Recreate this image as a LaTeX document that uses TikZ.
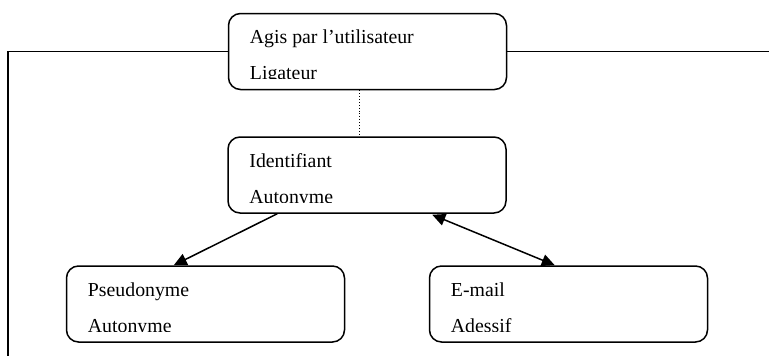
\documentclass[tikz,border=0pt]{standalone}
\usepackage{fontspec}
\setmainfont{Liberation Serif}
\usetikzlibrary{calc,arrows.meta}
\tikzset{
  box/.style={draw, line width=1.5pt, rounded corners=12pt, minimum width=278pt, minimum height=76pt, inner sep=0pt},
  lbl/.style={anchor=base west, inner sep=0pt, font=\fontsize{19.8pt}{23pt}\selectfont},
  conn/.style={line width=1.5pt},
  tip/.style={-{Triangle[length=13pt,width=12pt]}},
  dtip/.style={{Triangle[length=13pt,width=12pt]}-{Triangle[length=13pt,width=12pt]}}
}
\newcommand{\boxtext}[3]{%
  \begin{scope}
    \clip ($(#1.north west)$) rectangle ($(#1.north east)+(0,66)$);
    \node[lbl] (#1-a) at ($(#1.north west)+(22,31)$) {#2};
    \node[lbl] (#1-b) at ($(#1.north west)+(22,67)$) {#3};
  \end{scope}}
\begin{document}
\begin{tikzpicture}[x=1pt,y=-1pt]
  \useasboundingbox (0,0) rectangle (769,356);
  \node[box] (top) at (367.5,51.5) {};
  \node[box] (ident) at (367,175) {};
  \node[box] (pseudo) at (205.5,304) {};
  \node[box] (email) at (568.5,304) {};
  \boxtext{top}{Agis par l’utilisateur}{Ligateur}
  \boxtext{ident}{Identifiant}{Autonyme}
  \boxtext{pseudo}{Pseudonyme}{Autonyme}
  \boxtext{email}{E-mail}{Adessif}
  \coordinate (lc) at (8,51.5);
  \coordinate (lb) at (8,356);
  \coordinate (rc) at (769,51.5);
  \draw[conn] (top.west) -- (lc) -- (lb);
  \draw[conn] (top.east) -- (rc);
  \draw[dotted, line width=0.9pt] ($(top.south)+(-8.5,0)$) -- ($(ident.north)+(-8,0)$);
  \draw[conn, tip] ($(ident.south west)+(50,0)$) -- ($(pseudo.north west)+(108,0)$);
  \draw[conn, dtip] ($(ident.south west)+(205,1)$) -- ($(email.north west)+(126,0)$);
\end{tikzpicture}
\end{document}
